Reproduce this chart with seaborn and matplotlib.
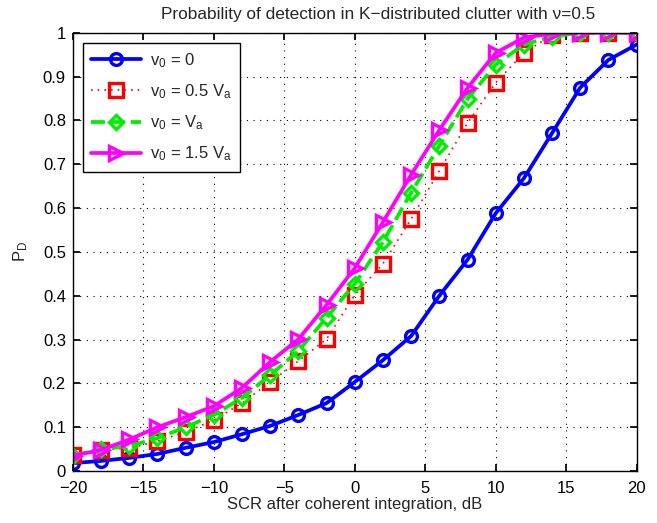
import numpy as np
import pandas as pd
import matplotlib
matplotlib.use("Agg")
import matplotlib.pyplot as plt
import seaborn as sns

scr = [-20, -18, -16, -14, -12, -10, -8, -6, -4, -2, 0, 2, 4, 6, 8, 10, 12, 14, 16, 18, 20]
pd_v0 = [0.018, 0.023, 0.030, 0.039, 0.053, 0.066, 0.084, 0.103, 0.128, 0.155, 0.203,
         0.253, 0.308, 0.400, 0.482, 0.588, 0.668, 0.771, 0.875, 0.938, 0.973]
pd_v05 = [0.037, 0.048, 0.052, 0.068, 0.089, 0.116, 0.155, 0.203, 0.251, 0.301, 0.402,
          0.473, 0.575, 0.685, 0.794, 0.886, 0.954, 0.995, 1.0, 1.0, 1.0]
pd_v1 = [0.035, 0.050, 0.057, 0.075, 0.100, 0.128, 0.167, 0.219, 0.274, 0.350, 0.427,
         0.523, 0.635, 0.742, 0.849, 0.927, 0.973, 0.991, 1.0, 1.0, 1.0]
pd_v15 = [0.035, 0.048, 0.072, 0.100, 0.123, 0.148, 0.190, 0.249, 0.301, 0.379, 0.463,
          0.568, 0.676, 0.778, 0.874, 0.954, 0.989, 0.998, 1.0, 1.0, 1.0]
labels = [r"v$_0$ = 0", r"v$_0$ = 0.5 V$_a$", r"v$_0$ = V$_a$", r"v$_0$ = 1.5 V$_a$"]

sns.set_theme(style="white")
plt.rcParams['font.family'] = ['Liberation Sans', 'DejaVu Sans']
plt.rcParams['mathtext.fontset'] = 'custom'
plt.rcParams['mathtext.rm'] = 'Liberation Sans'
plt.rcParams['mathtext.it'] = 'Liberation Sans'

fig = plt.figure(figsize=(6.57, 5.23), dpi=100)
ax = fig.add_axes([0.111, 0.0994, 0.858, 0.838])

styles = [
    dict(color="#0000ff", marker="o", linestyle="-", lw=2.7),
    dict(color="#ff0000", marker="s", linestyle=(0, (1, 3)), lw=1.2),
    dict(color="#00ee00", marker="D", linestyle="--", lw=2.7),
    dict(color="#ff00ff", marker=">", linestyle="-", lw=2.7),
]
series = [pd_v0, pd_v05, pd_v1, pd_v15]
msizes = [8.5, 9.5, 7, 10]
for ys, lab, st, ms in zip(series, labels, styles, msizes):
    sns.lineplot(x=scr, y=ys, ax=ax, color=st["color"], marker=st["marker"],
                 linestyle=st["linestyle"], linewidth=st["lw"], label=lab,
                 markersize=ms, markerfacecolor="none", markeredgecolor=st["color"],
                 markeredgewidth=2.4)

ax.set_xlim(-20, 20)
ax.set_ylim(0, 1)
ax.set_xticks(np.arange(-20, 21, 5))
ax.set_yticks(np.round(np.arange(0, 1.01, 0.1), 1))
ax.set_yticklabels(["0", "0.1", "0.2", "0.3", "0.4", "0.5", "0.6", "0.7", "0.8", "0.9", "1"])
ax.grid(True, linestyle=(0, (1, 5)), color="black", linewidth=0.8)
ax.tick_params(direction="in", length=5, labelsize=12, colors="black",
               top=True, right=True, bottom=True, left=True)
ax.tick_params(axis="x", pad=7)
ax.tick_params(axis="y", pad=5)
for s in ax.spines.values():
    s.set_color("black")
    s.set_linewidth(1.0)
ax.set_xlabel("SCR after coherent integration, dB", fontsize=12, labelpad=1)
ax.set_ylabel(r"P$_D$", fontsize=12, labelpad=9)
fig.text(378 / 657, 1 - 14 / 523,
         "Probability of detection in K\u2212distributed clutter with \u03bd=0.5",
         fontsize=12.4, ha="center", va="center")
leg = ax.legend(loc="upper left", fontsize=12, frameon=True, fancybox=False,
                edgecolor="black", framealpha=1, handlelength=3.0,
                borderaxespad=0.6, labelspacing=0.75, borderpad=0.5,
                handletextpad=0.5)
leg.get_frame().set_linewidth(1.0)

fig.savefig("out.png", dpi=100)
